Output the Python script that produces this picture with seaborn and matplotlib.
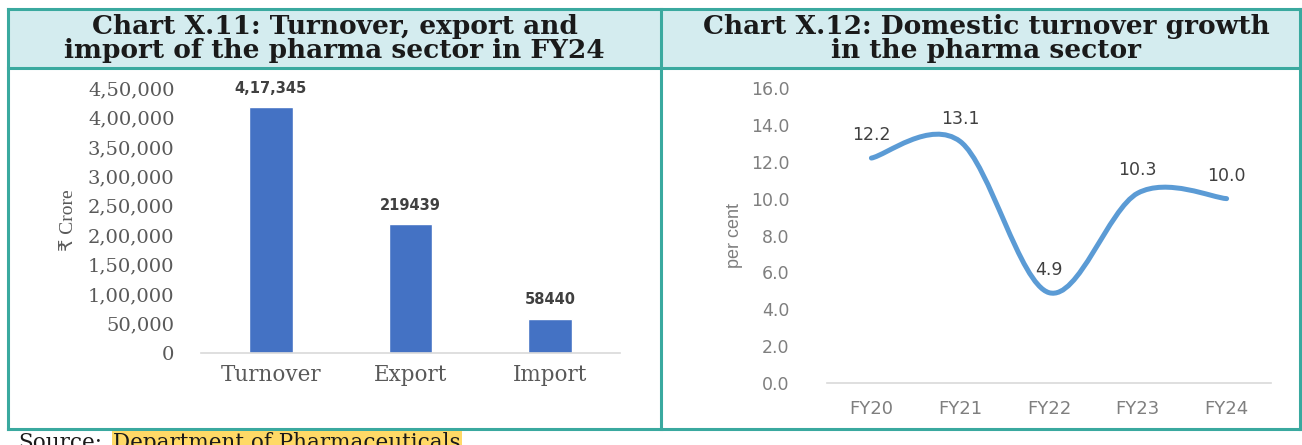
import numpy as np
import pandas as pd
import matplotlib
matplotlib.use("Agg")
import matplotlib.pyplot as plt
import seaborn as sns
from matplotlib.path import Path
from matplotlib.patches import PathPatch, Rectangle
from matplotlib.lines import Line2D

# ---------------- data ----------------
categories = ["Turnover", "Export", "Import"]
values = [417345, 219439, 58440]
value_labels = ["4,17,345", "219439", "58440"]
left_ticks = [0, 50000, 100000, 150000, 200000, 250000, 300000, 350000, 400000, 450000]
left_tick_labels = ["0", "50,000", "1,00,000", "1,50,000", "2,00,000", "2,50,000",
                    "3,00,000", "3,50,000", "4,00,000", "4,50,000"]

years = ["FY20", "FY21", "FY22", "FY23", "FY24"]
growth = [12.2, 13.1, 4.9, 10.3, 10.0]
growth_labels = ["12.2", "13.1", "4.9", "10.3", "10.0"]
right_ticks = [0, 2, 4, 6, 8, 10, 12, 14, 16]
right_tick_labels = ["0.0", "2.0", "4.0", "6.0", "8.0", "10.0", "12.0", "14.0", "16.0"]

title_left = "Chart X.11: Turnover, export and\nimport of the pharma sector in FY24"
title_right = "Chart X.12: Domestic turnover growth\nin the pharma sector"
source_prefix = "Source:"
source_text = "Department of Pharmaceuticals"

# ---------------- style ----------------
W, H = 1302, 445
sns.set_theme(style="white")
plt.rcParams['font.family'] = ['DejaVu Sans']

TEAL = "#3aa99f"
HEAD_BG = "#d4ecef"
BAR = "#4472c4"
LINE = "#5b9bd5"
GRID = "#d9d9d9"

fig = plt.figure(figsize=(W / 100, H / 100), dpi=100)
fig.patch.set_facecolor("white")


def fx(x):
    return x / W


def fy(y):
    return 1 - y / H


# frame and header band
fig.add_artist(Rectangle((fx(8), fy(68)), fx(1300) - fx(8), fy(9) - fy(68),
                         transform=fig.transFigure, facecolor=HEAD_BG, edgecolor="none", zorder=0))
for (x0, y0, x1, y1) in [(8, 9, 1300, 9), (8, 68, 1300, 68), (8, 429, 1300, 429),
                         (8, 9, 8, 429), (661, 9, 661, 429), (1300, 9, 1300, 429)]:
    fig.add_artist(Line2D([fx(x0), fx(x1)], [fy(y0), fy(y1)], transform=fig.transFigure,
                          color=TEAL, lw=2.2, solid_capstyle="projecting", zorder=1))

fig.text(fx(334.5), fy(38.5), title_left, ha="center", va="center", fontsize=19,
         fontweight="bold", family="DejaVu Serif", color="#1a1a1a", linespacing=0.98)
fig.text(fx(986), fy(38.5), title_right, ha="center", va="center", fontsize=19,
         fontweight="bold", family="DejaVu Serif", color="#1a1a1a", linespacing=0.98)

# ---------------- left chart: bars ----------------
axL = fig.add_axes([fx(201), fy(353), (620 - 201) / W, (353 - 88) / H])
dfL = pd.DataFrame({"cat": categories, "val": values})
sns.barplot(data=dfL, x="cat", y="val", ax=axL, color=BAR, saturation=1, width=0.315)
axL.set_xlim(-0.5, 2.5)
axL.set_ylim(0, 450000)
axL.set_yticks(left_ticks)
axL.set_yticklabels(left_tick_labels, family="DejaVu Serif", fontsize=14, color="#595959")
axL.set_xticks(range(len(categories)))
axL.set_xticklabels(categories, family="DejaVu Serif", fontsize=15.5, color="#595959")
axL.tick_params(axis="y", length=0, pad=19)
axL.tick_params(axis="x", length=0, pad=8)
axL.set_xlabel("")
axL.set_ylabel("₹ Crore", family=["Liberation Serif", "DejaVu Sans"], fontsize=14,
               color="#595959", labelpad=8)
for s in ["top", "right", "left"]:
    axL.spines[s].set_visible(False)
axL.spines["bottom"].set_color(GRID)
axL.spines["bottom"].set_linewidth(1.2)
axL.set_facecolor("none")
for i, (v, lab) in enumerate(zip(values, value_labels)):
    axL.annotate(lab, (i, v), xytext=(0, 8), textcoords="offset points", ha="center",
                 va="bottom", fontsize=10.5, fontweight="bold", color="#404040")

# ---------------- right chart: smoothed line ----------------
axR = fig.add_axes([fx(827), fy(383), 444 / W, 295 / H])
xs = np.arange(len(growth), dtype=float)
ys = np.array(growth, dtype=float)
pts = np.column_stack([xs, ys])
verts = [tuple(pts[0])]
codes = [Path.MOVETO]
n = len(pts)
for i in range(n - 1):
    p_prev = pts[i - 1] if i > 0 else pts[i]
    p0 = pts[i]
    p1 = pts[i + 1]
    p_next = pts[i + 2] if i + 2 < n else pts[i + 1]
    c1 = p0 + (p1 - p_prev) / 6.0
    c2 = p1 - (p_next - p0) / 6.0
    verts += [tuple(c1), tuple(c2), tuple(p1)]
    codes += [Path.CURVE4, Path.CURVE4, Path.CURVE4]
axR.add_patch(PathPatch(Path(verts, codes), facecolor="none", edgecolor=LINE, lw=3.6,
                        capstyle="round", joinstyle="round"))
axR.set_xlim(-0.5, 4.5)
axR.set_ylim(0, 16)
axR.set_xticks(range(len(years)))
axR.set_xticklabels(years, fontsize=13, color="#7f7f7f")
axR.set_yticks(right_ticks)
axR.set_yticklabels(right_tick_labels, fontsize=12.5, color="#7f7f7f")
axR.tick_params(axis="y", length=0, pad=27)
axR.tick_params(axis="x", length=0, pad=12)
axR.set_ylabel("per cent", family="Liberation Sans", fontsize=13, color="#7f7f7f", labelpad=6)
for s in ["top", "right", "left"]:
    axR.spines[s].set_visible(False)
axR.spines["bottom"].set_color(GRID)
axR.spines["bottom"].set_linewidth(1.2)
axR.set_facecolor("none")
for i, (v, lab) in enumerate(zip(growth, growth_labels)):
    axR.annotate(lab, (i, v), xytext=(0, 16.5), textcoords="offset points", ha="center",
                 va="center", fontsize=12.5, color="#404040")

# ---------------- source line ----------------
fig.text(fx(18), fy(432), source_prefix, ha="left", va="top", fontsize=15.5,
         family="DejaVu Serif", color="#1a1a1a")
fig.text(fx(113), fy(432), source_text, ha="left", va="top", fontsize=15.5,
         family="DejaVu Serif", color="#1a1a1a",
         bbox=dict(facecolor="#ffd966", edgecolor="none", pad=1))

fig.savefig("out.png", dpi=100, facecolor="white")
